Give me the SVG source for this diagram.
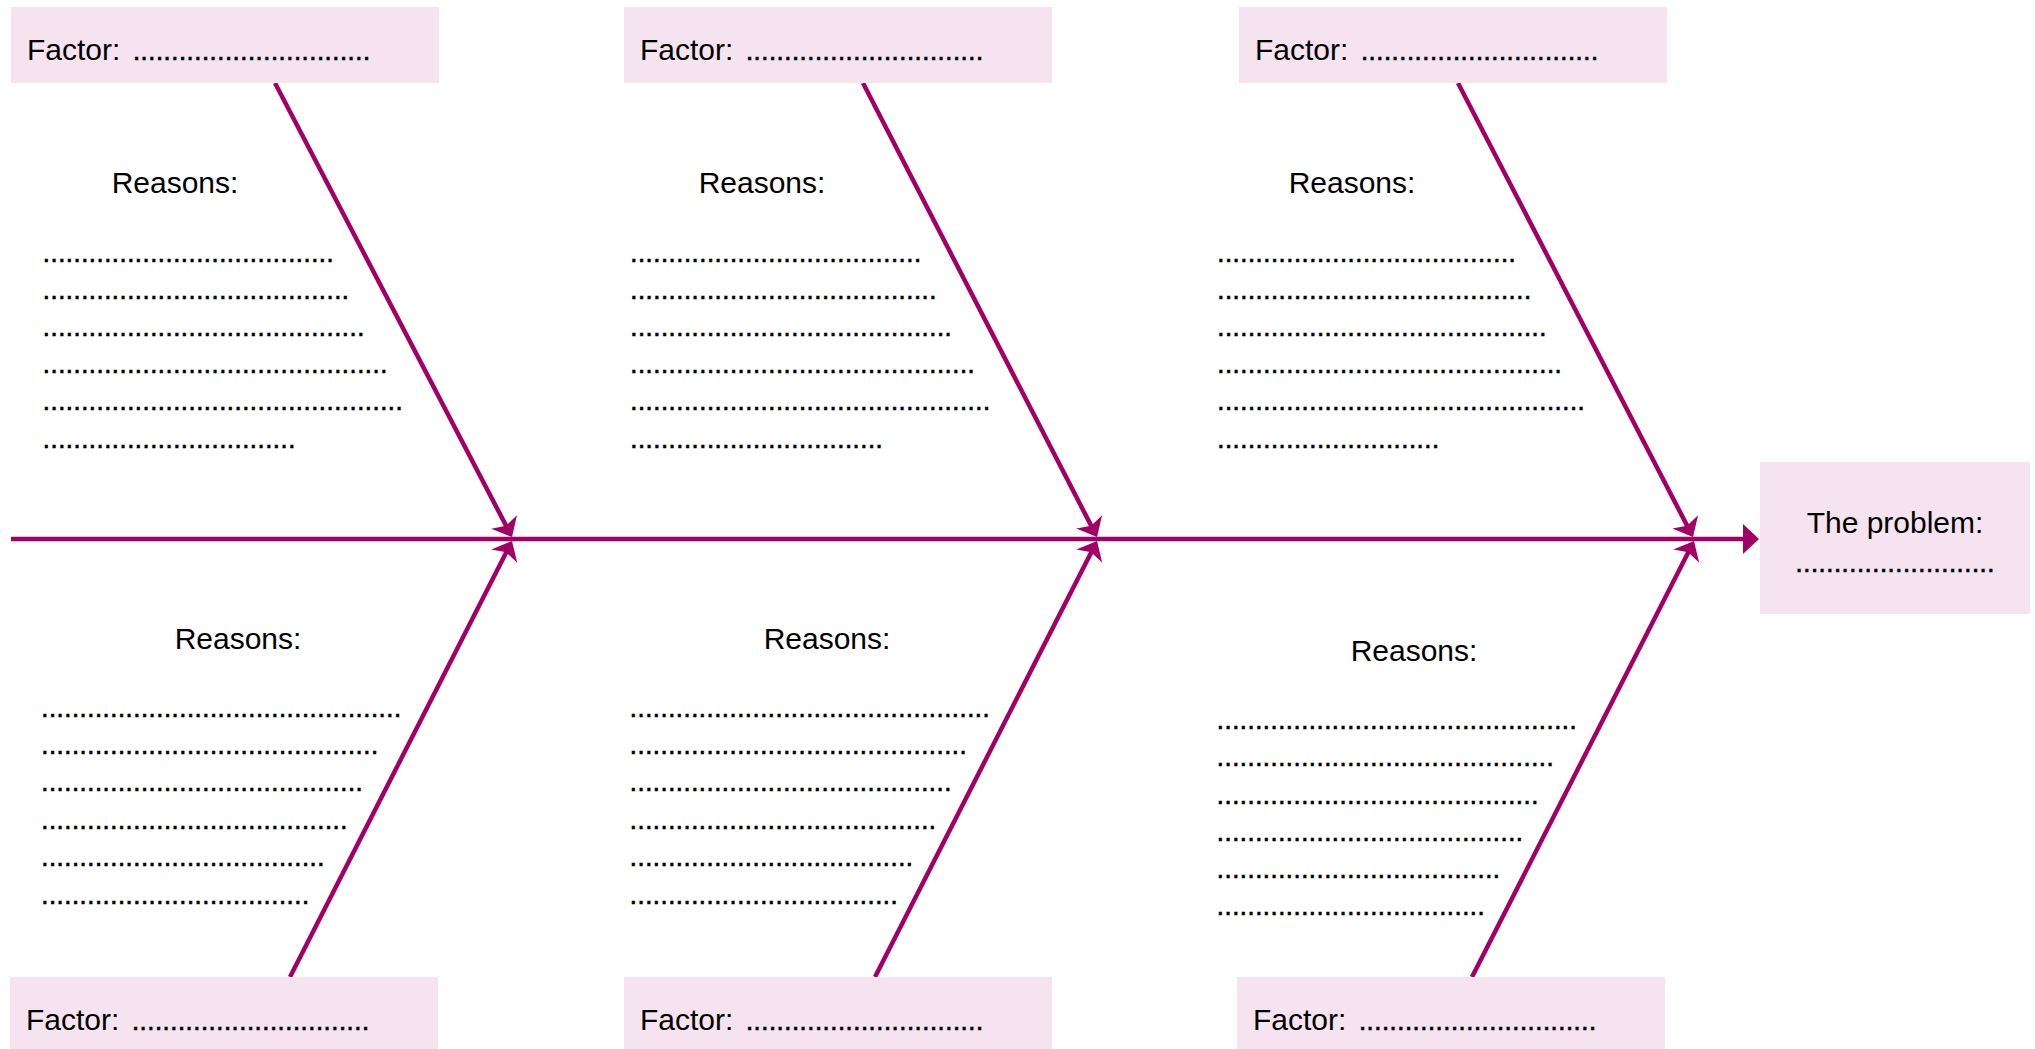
<svg xmlns="http://www.w3.org/2000/svg" width="2035" height="1049" viewBox="0 0 2035 1049">
<style>
.box{fill:#f5e4ef}
.lbl{font-family:"Liberation Sans",Arial,Helvetica,sans-serif;font-size:30px;fill:#000}
.dots{font-family:"Liberation Sans",Arial,Helvetica,sans-serif;font-size:27.6px;fill:#000;stroke:#000;stroke-width:0.5}
.mid{text-anchor:middle}
.bone{stroke:#a30066;stroke-width:4.5;fill:none}
</style>
<defs>
<marker id="classic" markerUnits="userSpaceOnUse" orient="auto" markerWidth="40" markerHeight="40" viewBox="-20 -20 40 40" refX="0" refY="0">
<path d="M10,0 L-7,-14.5 L-2.75,0 L-7,14.5 Z" fill="#a30066"/>
</marker>
<marker id="block" markerUnits="userSpaceOnUse" orient="auto" markerWidth="40" markerHeight="40" viewBox="-20 -20 40 40" refX="0" refY="0">
<path d="M14,0 L-2,-15 L-2,15 Z" fill="#a30066"/>
</marker>
</defs>
<rect width="2035" height="1049" fill="#fff"/>

<g id="connectors">
<line class="bone" x1="11" y1="539" x2="1745" y2="539" marker-end="url(#block)"/>
<line class="bone" x1="275" y1="83" x2="507.37" y2="528.14" marker-end="url(#classic)"/>
<line class="bone" x1="863" y1="83" x2="1092.42" y2="528.11" marker-end="url(#classic)"/>
<line class="bone" x1="1458" y1="83" x2="1688.40" y2="528.12" marker-end="url(#classic)"/>
<line class="bone" x1="290" y1="977" x2="507.46" y2="549.91" marker-end="url(#classic)"/>
<line class="bone" x1="875" y1="977" x2="1092.46" y2="549.91" marker-end="url(#classic)"/>
<line class="bone" x1="1472" y1="977" x2="1689.46" y2="549.91" marker-end="url(#classic)"/>
</g>

<g id="factor-top-1">
<rect class="box" x="11" y="7" width="428" height="76"/>
<text class="lbl" x="27" y="60">Factor: <tspan class="dots" dx="4">...............................</tspan></text>
</g>
<g id="factor-top-2">
<rect class="box" x="624" y="7" width="428" height="76"/>
<text class="lbl" x="640" y="60">Factor: <tspan class="dots" dx="4">...............................</tspan></text>
</g>
<g id="factor-top-3">
<rect class="box" x="1239" y="7" width="428" height="76"/>
<text class="lbl" x="1255" y="60">Factor: <tspan class="dots" dx="4">...............................</tspan></text>
</g>
<g id="factor-bottom-1">
<rect class="box" x="10" y="977" width="428" height="76"/>
<text class="lbl" x="26" y="1030">Factor: <tspan class="dots" dx="4">...............................</tspan></text>
</g>
<g id="factor-bottom-2">
<rect class="box" x="624" y="977" width="428" height="76"/>
<text class="lbl" x="640" y="1030">Factor: <tspan class="dots" dx="4">...............................</tspan></text>
</g>
<g id="factor-bottom-3">
<rect class="box" x="1237" y="977" width="428" height="76"/>
<text class="lbl" x="1253" y="1030">Factor: <tspan class="dots" dx="4">...............................</tspan></text>
</g>

<g id="problem">
<rect class="box" x="1760" y="462" width="270" height="152"/>
<text class="lbl mid" x="1895" y="533">The problem:</text>
<text class="dots mid" x="1895" y="572">..........................</text>
</g>

<g id="reasons-top-1">
<text class="lbl mid" x="175" y="193">Reasons:</text>
<text class="dots" x="42.6" y="261.5">......................................</text>
<text class="dots" x="42.6" y="298.7">........................................</text>
<text class="dots" x="42.6" y="335.9">..........................................</text>
<text class="dots" x="42.6" y="373.1">.............................................</text>
<text class="dots" x="42.6" y="410.3">...............................................</text>
<text class="dots" x="42.6" y="447.5">.................................</text>
</g>
<g id="reasons-top-2">
<text class="lbl mid" x="762" y="193">Reasons:</text>
<text class="dots" x="630" y="261.5">......................................</text>
<text class="dots" x="630" y="298.7">........................................</text>
<text class="dots" x="630" y="335.9">..........................................</text>
<text class="dots" x="630" y="373.1">.............................................</text>
<text class="dots" x="630" y="410.3">...............................................</text>
<text class="dots" x="630" y="447.5">.................................</text>
</g>
<g id="reasons-top-3">
<text class="lbl mid" x="1352" y="193">Reasons:</text>
<text class="dots" x="1217" y="261.5">.......................................</text>
<text class="dots" x="1217" y="298.7">.........................................</text>
<text class="dots" x="1217" y="335.9">...........................................</text>
<text class="dots" x="1217" y="373.1">.............................................</text>
<text class="dots" x="1217" y="410.3">................................................</text>
<text class="dots" x="1217" y="447.5">.............................</text>
</g>
<g id="reasons-bottom-1">
<text class="lbl mid" x="238" y="649">Reasons:</text>
<text class="dots" x="41" y="716.5">...............................................</text>
<text class="dots" x="41" y="753.9">............................................</text>
<text class="dots" x="41" y="791.3">..........................................</text>
<text class="dots" x="41" y="828.7">........................................</text>
<text class="dots" x="41" y="866.1">.....................................</text>
<text class="dots" x="41" y="903.5">...................................</text>
</g>
<g id="reasons-bottom-2">
<text class="lbl mid" x="827" y="649">Reasons:</text>
<text class="dots" x="629.6" y="716.5">...............................................</text>
<text class="dots" x="629.6" y="753.9">............................................</text>
<text class="dots" x="629.6" y="791.3">..........................................</text>
<text class="dots" x="629.6" y="828.7">........................................</text>
<text class="dots" x="629.6" y="866.1">.....................................</text>
<text class="dots" x="629.6" y="903.5">...................................</text>
</g>
<g id="reasons-bottom-3">
<text class="lbl mid" x="1414" y="661">Reasons:</text>
<text class="dots" x="1216.6" y="728.5">...............................................</text>
<text class="dots" x="1216.6" y="765.5">............................................</text>
<text class="dots" x="1216.6" y="803.5">..........................................</text>
<text class="dots" x="1216.6" y="840.5">........................................</text>
<text class="dots" x="1216.6" y="877.5">.....................................</text>
<text class="dots" x="1216.6" y="914.5">...................................</text>
</g>
</svg>
